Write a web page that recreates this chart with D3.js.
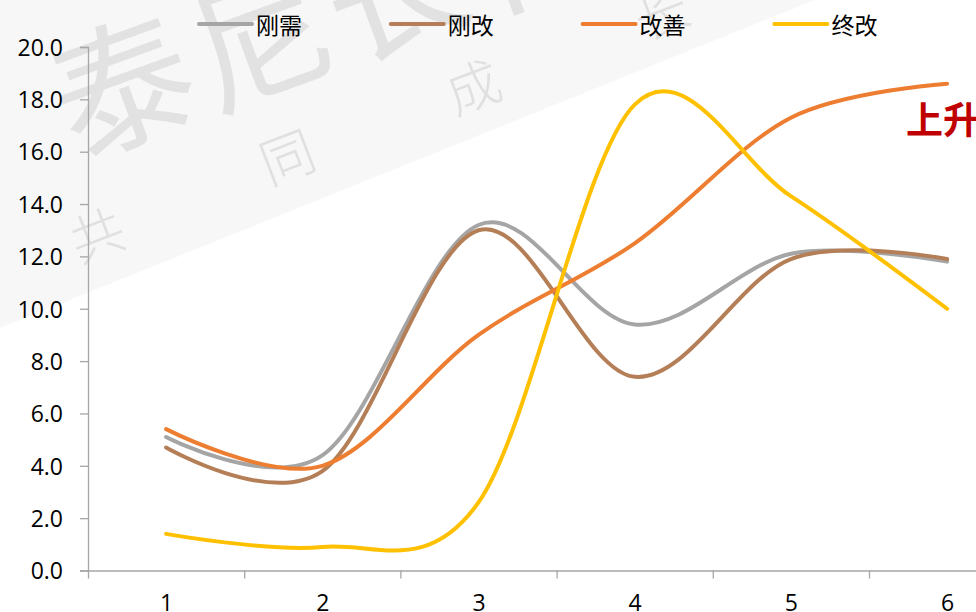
<!DOCTYPE html>
<html>
<head>
<meta charset="utf-8">
<script src="https://cdn.jsdelivr.net/npm/d3@7"></script>
<style>
  html, body { margin: 0; padding: 0; background: #ffffff; }
  svg { display: block; }
</style>
</head>
<body>
<svg id="chart" width="976" height="612"></svg>
<script>
// ---- data ----
const categories = [1, 2, 3, 4, 5, 6];
const seriesNames = ["刚需", "刚改", "改善", "终改"];
const gangxu   = [5.1, 4.4, 13.2, 9.4, 12.1, 11.8];
const gangai   = [4.7, 3.8, 13.0, 7.4, 11.9, 11.9];
const gaishan  = [5.4, 4.0, 9.0, 12.5, 17.3, 18.6];
const zhonggai = [1.4, 0.9, 2.6, 17.8, 14.3, 10.0];
const yTicks = [0, 2, 4, 6, 8, 10, 12, 14, 16, 18, 20];
const annotation = "上升";
const watermarkBig = ["泰", "尼", "长", "化"];
const watermarkSmall = ["共", "同", "成", "长"];

const colors = ["#A5A5A5", "#B47E57", "#ED7D31", "#FFC000"];
const seriesValues = [gangxu, gangai, gaishan, zhonggai];

const svg = d3.select("#chart");

// ---- watermark background ----
const wm = svg.append("g");
wm.append("polygon")
  .attr("points", "0,0 815,0 0,328")
  .attr("fill", "#f7f7f7");
const bigPos = [[120, 78], [258, 30], [392, -18], [528, -66]];
watermarkBig.forEach((c, i) => {
  wm.append("text")
    .attr("transform", `translate(${bigPos[i][0]},${bigPos[i][1]}) rotate(-20)`)
    .attr("text-anchor", "middle")
    .attr("dominant-baseline", "central")
    .attr("font-family", "'Noto Sans CJK SC', sans-serif")
    .attr("font-size", 140)
    .attr("fill", "#e2e2e2")
    .text(c);
});
const smallPos = [[96, 232], [286, 154], [472, 84], [660, 10]];
watermarkSmall.forEach((c, i) => {
  wm.append("text")
    .attr("transform", `translate(${smallPos[i][0]},${smallPos[i][1]}) rotate(-21)`)
    .attr("text-anchor", "middle")
    .attr("dominant-baseline", "central")
    .attr("font-family", "'Noto Sans CJK SC', sans-serif")
    .attr("font-weight", 300)
    .attr("font-size", 54)
    .attr("fill", "#e0e0e0")
    .text(c);
});

// ---- scales ----
const x0 = 88, step = 156.2;
const x = d3.scaleLinear().domain([0.5, 6.5]).range([x0, x0 + 6 * step]);
const y = d3.scaleLinear().domain([0, 20]).range([570.5, 47]);

const axisColor = "#a6a6a6";
const numFont = "'Open Sans', sans-serif";

// y axis
const yAxis = svg.append("g")
  .attr("transform", `translate(${x0},0)`)
  .call(d3.axisLeft(y).tickValues(yTicks).tickFormat(d3.format(".1f")).tickSize(8).tickPadding(17));
yAxis.select(".domain").attr("stroke", axisColor).attr("stroke-width", 1.3);
yAxis.selectAll(".tick line").attr("stroke", axisColor).attr("stroke-width", 1.3);
yAxis.selectAll(".tick text")
  .attr("font-family", numFont).attr("font-size", 23).attr("fill", "#000")
  .attr("dy", "0.36em");

// x axis: boundary ticks
const xAxis = svg.append("g")
  .attr("transform", `translate(0,${y(0)})`)
  .call(d3.axisBottom(x).tickValues([0.5, 1.5, 2.5, 3.5, 4.5, 5.5, 6.5]).tickFormat("").tickSize(8).tickSizeOuter(0));
xAxis.select(".domain").attr("stroke", axisColor).attr("stroke-width", 1.3);
xAxis.selectAll(".tick line").attr("stroke", axisColor).attr("stroke-width", 1.3);

// x axis labels
const xLab = svg.append("g")
  .attr("transform", `translate(0,${y(0)})`)
  .call(d3.axisBottom(x).tickValues(categories).tickFormat(d3.format("d")).tickSize(0).tickPadding(24));
xLab.select(".domain").remove();
xLab.selectAll(".tick text")
  .attr("font-family", numFont).attr("font-size", 23).attr("fill", "#000");

// ---- lines ----
const line = d3.line()
  .x((d, i) => x(categories[i]))
  .y(d => y(d))
  .curve(d3.curveCatmullRom.alpha(0));

seriesValues.forEach((vals, k) => {
  svg.append("path")
    .datum(vals)
    .attr("d", line)
    .attr("fill", "none")
    .attr("stroke", colors[k])
    .attr("stroke-width", 4)
    .attr("stroke-linecap", "round")
    .attr("stroke-linejoin", "round");
});

// ---- legend ----
const legend = svg.append("g");
seriesNames.forEach((name, k) => {
  const lx = 199 + k * 191.8;
  legend.append("line")
    .attr("x1", lx).attr("x2", lx + 53)
    .attr("y1", 24).attr("y2", 24)
    .attr("stroke", colors[k]).attr("stroke-width", 4)
    .attr("stroke-linecap", "round");
  legend.append("text")
    .attr("x", lx + 57).attr("y", 24)
    .attr("dominant-baseline", "central")
    .attr("font-family", "'Noto Sans CJK SC', sans-serif")
    .attr("font-size", 23)
    .attr("fill", "#000")
    .text(name);
});

// ---- annotation ----
svg.append("text")
  .attr("x", 906).attr("y", 134)
  .attr("font-family", "'Noto Sans CJK SC', sans-serif")
  .attr("font-weight", 700)
  .attr("font-size", 37)
  .attr("fill", "#C00000")
  .text(annotation);
</script>
</body>
</html>
